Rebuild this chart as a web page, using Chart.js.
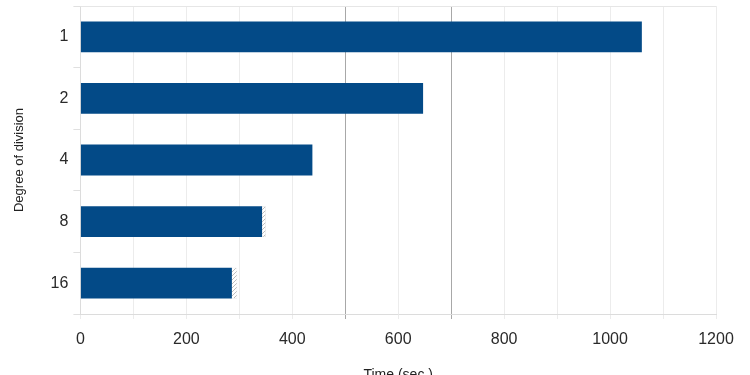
<!DOCTYPE html>
<html>
<head>
<meta charset="utf-8">
<script src="https://cdn.jsdelivr.net/npm/chart.js@4.4.1/dist/chart.umd.min.js"></script>
<style>
    html, body { margin: 0; padding: 0; background: #fff; overflow: hidden; }
    #wrap { position: relative; width: 750px; height: 384px; }
</style>
</head>
<body>
<div id="wrap"><canvas id="myChart"></canvas></div>
<script>
//--- Data
var degrees = ['1', '2', '4', '8', '16'];
var timeSec = [1060, 647, 438, 343, 286];
var timeSpread = [0, 0, 0, 7, 10];   // hatched part at the bar end
var markedTimes = [500, 700];       // the darker vertical lines
var xTicks = [0, 200, 400, 600, 800, 1000, 1200];

//--- hatch pattern for the small bar ends
function hatchPattern() {
    var c = document.createElement('canvas');
    c.width = 4; c.height = 4;
    var g = c.getContext('2d');
    g.fillStyle = '#ffffff';
    g.fillRect(0, 0, 4, 4);
    g.strokeStyle = '#a0a0a0';
    g.lineWidth = 0.7;
    g.beginPath();
    g.moveTo(0, 4); g.lineTo(4, 0);
    g.stroke();
    return g.createPattern(c, 'repeat');
}

// thin frame line along the top of the plot area
var topFrame = {
    id: 'topFrame',
    beforeDatasetsDraw: function (chart) {
        var a = chart.chartArea, c = chart.ctx;
        c.save();
        c.strokeStyle = '#e6e6e6';
        c.lineWidth = 1;
        c.beginPath();
        c.moveTo(a.left, a.top + 0.5);
        c.lineTo(a.right, a.top + 0.5);
        c.stroke();
        c.restore();
    }
};

var font = { family: 'Liberation Sans', size: 16 };

new Chart(document.getElementById('myChart'), {
    type: 'bar',
    data: {
        labels: degrees,
        datasets: [
            {
                label: 'Time',
                data: timeSec,
                backgroundColor: '#034a87',
                borderWidth: 0,
                barPercentage: 0.5,
                categoryPercentage: 1.0
            },
            {
                label: 'Spread',
                data: timeSpread,
                backgroundColor: hatchPattern(),
                borderColor: '#d0d0d0',
                borderWidth: 0.5,
                barPercentage: 0.5,
                categoryPercentage: 1.0
            }
        ]
    },
    plugins: [topFrame],
    options: {
        indexAxis: 'y',
        responsive: true,
        maintainAspectRatio: false,
        animation: false,
        layout: { padding: { top: 6, right: 34, left: 12, bottom: 0 } },
        plugins: {
            legend: { display: false },
            tooltip: { enabled: false }
        },
        scales: {
            x: {
                stacked: true,
                min: 0,
                max: 1200,
                ticks: {
                    stepSize: 100,
                    color: '#2a2a2a',
                    font: font,
                    padding: 11,
                    maxRotation: 0,
                    autoSkip: false,
                    callback: function (v) { return xTicks.indexOf(v) >= 0 ? v : ''; }
                },
                grid: {
                    color: function (ctx) {
                        return markedTimes.indexOf(ctx.tick.value) >= 0 ? '#a8a8a8' : '#ececec';
                    },
                    lineWidth: 1,
                    tickLength: 5
                },
                border: { color: '#dcdcdc' },
                title: {
                    display: true,
                    text: 'Time (sec.)',
                    color: '#222',
                    font: { family: 'Liberation Sans', size: 14 },
                    padding: { top: 7, bottom: 0 }
                }
            },
            y: {
                stacked: true,
                offset: true,
                afterFit: function (scale) {
                    scale.paddingTop = 0;
                    scale.paddingBottom = 0;
                },
                ticks: { color: '#2a2a2a', font: font, padding: 5 },
                grid: {
                    offset: true,
                    drawOnChartArea: false,
                    color: '#e0e0e0',
                    tickLength: 7
                },
                border: { color: '#dcdcdc' },
                title: {
                    display: true,
                    text: 'Degree of division',
                    color: '#222',
                    font: { family: 'Liberation Sans', size: 13 },
                    padding: { top: 0, bottom: 18 }
                }
            }
        }
    }
});
</script>
</body>
</html>
